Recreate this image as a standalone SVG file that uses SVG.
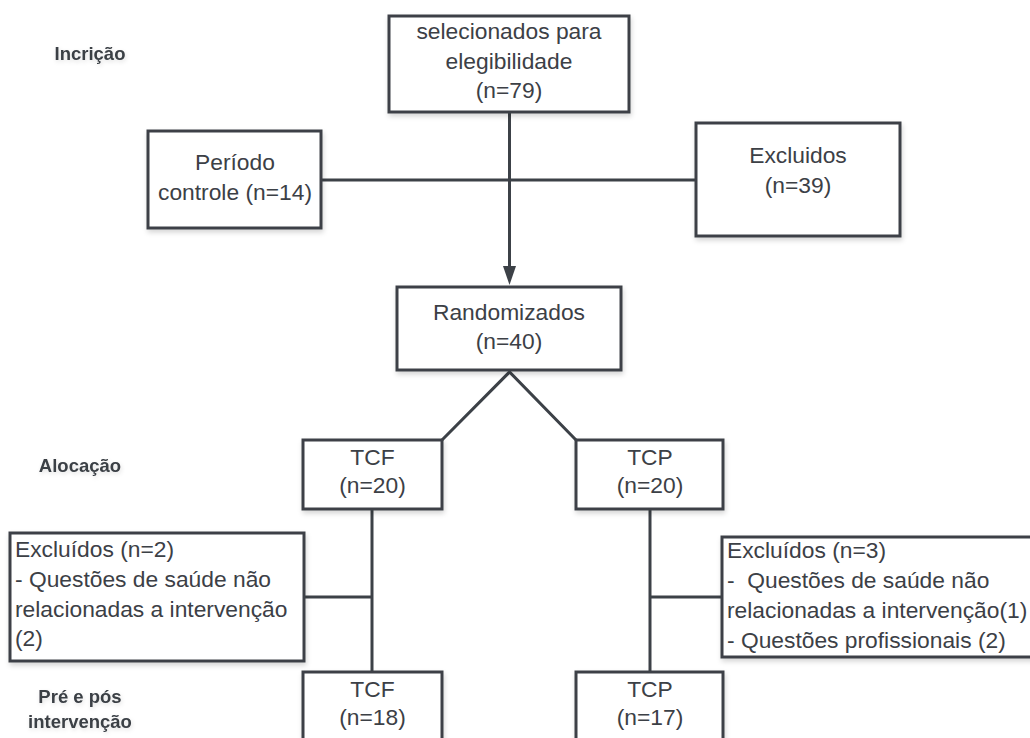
<svg xmlns="http://www.w3.org/2000/svg" width="1030" height="738" viewBox="0 0 1030 738">
<defs>
<filter id="sh" x="-10%" y="-10%" width="130%" height="140%">
<feDropShadow dx="1" dy="3" stdDeviation="2.5" flood-color="#000" flood-opacity="0.16"/>
</filter>
<filter id="tsh" x="-10%" y="-30%" width="130%" height="180%">
<feDropShadow dx="1" dy="2" stdDeviation="2" flood-color="#000" flood-opacity="0.12"/>
</filter>
</defs>
<style>
.box{fill:#fff;stroke:#3c4147;stroke-width:3;filter:url(#sh)}
.t{font-family:"Liberation Sans",Arial,sans-serif;font-size:22.8px;fill:#3c4046}
.c{text-anchor:middle}
.lbl{font-family:"Liberation Sans",Arial,sans-serif;font-size:18.5px;font-weight:bold;fill:#3a3f45;text-anchor:middle;filter:url(#tsh)}
.ln{stroke:#3c4147;stroke-width:3;fill:none}
</style>
<rect width="1030" height="738" fill="#fff"/>
<g id="labels">
<text class="lbl" x="90" y="60">Incrição</text>
<text class="lbl" x="80" y="472">Alocação</text>
<text class="lbl" x="80" y="703">Pré e pós</text>
<text class="lbl" x="80" y="728">intervenção</text>
</g>
<g id="connectors">
<line class="ln" x1="509.5" y1="112" x2="509.5" y2="268"/>
<polygon points="503,266 516,266 509.5,285" fill="#3c4147"/>
<line class="ln" x1="321" y1="180" x2="696" y2="180"/>
<polyline class="ln" points="442,440 509.5,372 576,440"/>
<line class="ln" x1="372" y1="509" x2="372" y2="672"/>
<line class="ln" x1="304" y1="597" x2="372" y2="597"/>
<line class="ln" x1="650" y1="509" x2="650" y2="672"/>
<line class="ln" x1="650" y1="597" x2="722" y2="597"/>
</g>
<g id="n-selecionados">
<rect class="box" x="389" y="16" width="240" height="96"/>
<text class="t c" x="509" y="39">selecionados para</text>
<text class="t c" x="509" y="68.5">elegibilidade</text>
<text class="t c" x="509" y="98">(n=79)</text>
</g>
<g id="n-periodo">
<rect class="box" x="148" y="131" width="173" height="97"/>
<text class="t c" x="235" y="170">Período</text>
<text class="t c" x="235" y="200">controle (n=14)</text>
</g>
<g id="n-excluidos">
<rect class="box" x="696" y="123" width="204" height="113"/>
<text class="t c" x="798" y="163">Excluidos</text>
<text class="t c" x="798" y="193">(n=39)</text>
</g>
<g id="n-randomizados">
<rect class="box" x="397" y="287" width="224" height="83"/>
<text class="t c" x="509" y="320">Randomizados</text>
<text class="t c" x="509" y="349">(n=40)</text>
</g>
<g id="n-tcf20">
<rect class="box" x="303" y="440" width="139" height="69"/>
<text class="t c" x="372.5" y="465">TCF</text>
<text class="t c" x="372.5" y="493">(n=20)</text>
</g>
<g id="n-tcp20">
<rect class="box" x="576" y="440" width="147" height="69"/>
<text class="t c" x="650" y="465">TCP</text>
<text class="t c" x="650" y="493">(n=20)</text>
</g>
<g id="n-excl2">
<rect class="box" x="10" y="533" width="294" height="128"/>
<text class="t" x="15" y="557">Excluídos (n=2)</text>
<text class="t" x="15" y="587">- Questões de saúde não</text>
<text class="t" x="15" y="617">relacionadas a intervenção</text>
<text class="t" x="15" y="646">(2)</text>
</g>
<g id="n-excl3">
<rect class="box" x="722" y="537" width="320" height="120"/>
<text class="t" x="727" y="558">Excluídos (n=3)</text>
<text class="t" x="727" y="588" xml:space="preserve">-  Questões de saúde não</text>
<text class="t" x="727" y="618">relacionadas a intervenção(1)</text>
<text class="t" x="727" y="648">- Questões profissionais (2)</text>
</g>
<g id="n-tcf18">
<rect class="box" x="303" y="672" width="139" height="80"/>
<text class="t c" x="372.5" y="697">TCF</text>
<text class="t c" x="372.5" y="725">(n=18)</text>
</g>
<g id="n-tcp17">
<rect class="box" x="576" y="672" width="147" height="80"/>
<text class="t c" x="650" y="697">TCP</text>
<text class="t c" x="650" y="725">(n=17)</text>
</g>
</svg>
